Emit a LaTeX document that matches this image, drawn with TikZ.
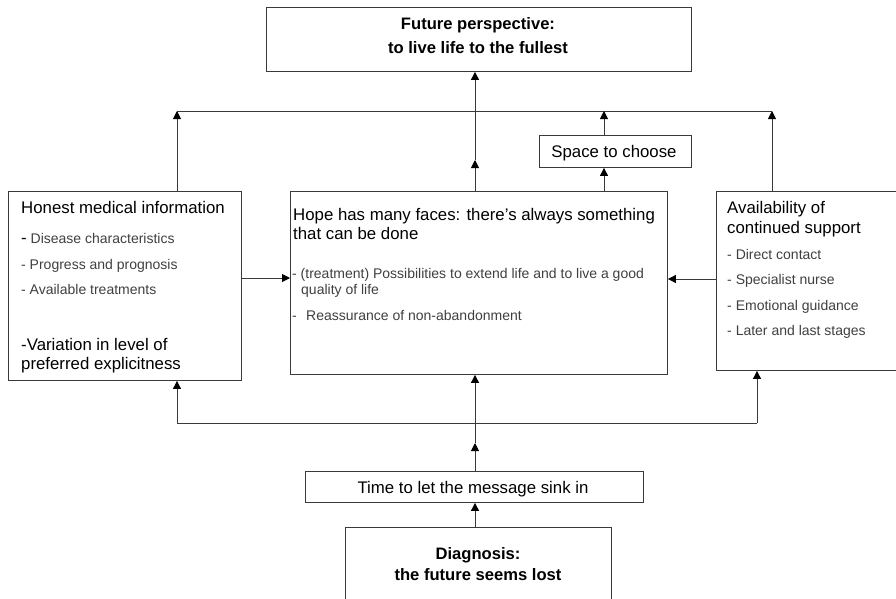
\documentclass[tikz,border=0pt]{standalone}
\usepackage{fontspec}
\setmainfont{Liberation Sans}
\usetikzlibrary{arrows.meta}
\definecolor{lncol}{HTML}{3A3A3A}
\definecolor{gtcol}{HTML}{404040}
\newcommand{\hdf}{\fontsize{16.8}{19.5}\selectfont}
\newcommand{\hbf}{\fontsize{16.6}{19.5}\selectfont\bfseries}
\newcommand{\blf}{\fontsize{14}{16}\selectfont}
\begin{document}
\begin{tikzpicture}[x=1pt,y=-1pt,
  box/.style={draw=lncol,line width=0.9pt,inner sep=0pt,anchor=north west},
  conn/.style={draw=lncol,line width=0.9pt},
  arr/.style={draw=lncol,line width=0.9pt,-{Triangle[length=8pt,width=8pt,color=black]}},
  hd/.style={inner sep=0pt,anchor=base west,font=\hdf},
  hdc/.style={inner sep=0pt,anchor=base,font=\hdf},
  hdb/.style={inner sep=0pt,anchor=base,font=\hbf},
  bl/.style={inner sep=0pt,anchor=base west,font=\blf,text=gtcol}]
\clip (0,0) rectangle (896,598);
\fill[white] (0,0) rectangle (896,598);
% boxes
\node[box,minimum width=425pt,minimum height=64pt] (top) at (266,7) {};
\node[box,minimum width=152pt,minimum height=32pt] (space) at (539,135) {};
\node[box,minimum width=233pt,minimum height=189pt] (left) at (8,191) {};
\node[box,minimum width=377pt,minimum height=183pt] (center) at (290,191) {};
\node[box,minimum width=190pt,minimum height=179pt] (right) at (716,191) {};
\node[box,minimum width=338pt,minimum height=31pt] (time) at (305,471) {};
\node[box,minimum width=266pt,minimum height=90pt] (diag) at (345,527) {};
% texts
\node[hdb] (t1) at (478,29) {Future perspective:};
\node[hdb] (t2) at (478,53) {to live life to the fullest};
\node[hdc] (s1) at (614,157) {Space to choose};
\node[hdc] (m1) at (473,493) {Time to let the message sink in};
\node[hdb] (d1) at (478,559) {Diagnosis:};
\node[hdb] (d2) at (478,580) {the future seems lost};
\node[hd] (l1) at (21,213) {Honest medical information};
\node[bl] (l2) at (21,243) {{\hdf\color{black}-} Disease characteristics};
\node[bl] (l3) at (21,269) {- Progress and prognosis};
\node[bl] (l4) at (21,294) {- Available treatments};
\node[hd] (l5) at (21,350) {-Variation in level of};
\node[hd] (l6) at (21,369) {preferred explicitness};
\node[hd] (c1) at (293,220) {Hope has many faces: there’s always something};
\node[hd] (c2) at (293,239) {that can be done};
\node[bl] (c3) at (292,278) {- (treatment) Possibilities to extend life and to live a good};
\node[bl] (c4) at (301,294) {quality of life};
\node[bl] (c5) at (292,320) {-};
\node[bl] (c6) at (306,320) {Reassurance of non-abandonment};
\node[hd] (r1) at (727,213) {Availability of};
\node[hd] (r2) at (727,233) {continued support};
\node[bl] (r3) at (727,259) {- Direct contact};
\node[bl] (r4) at (727,284) {- Specialist nurse};
\node[bl] (r5) at (727,310) {- Emotional guidance};
\node[bl] (r6) at (727,335) {- Later and last stages};
% upper connectors
\coordinate (tl) at (177,111);
\coordinate (tr) at (772,111);
\coordinate (cm) at (475,160);
\coordinate (sa) at (604,151);
\draw[conn] (tl) -- (tr);
\draw[arr] (left.north -| tl) -- (tl);
\draw[arr] (right.north -| tr) -- (tr);
\draw[arr] (center.north -| cm) -- (cm);
\draw[arr] (cm) -- (top.south -| cm);
\draw[arr] (center.north -| sa) -- (space.south -| sa);
\draw[arr] (space.north -| sa) -- (tl -| sa);
% lower connectors
\coordinate (bl) at (177,423);
\coordinate (br) at (757,423);
\coordinate (bm) at (475,443);
\draw[conn] (bl) -- (br);
\draw[arr] (bl) -- (left.south -| bl);
\draw[arr] (br) -- (right.south -| br);
\draw[arr] (time.north -| bm) -- (bm);
\draw[arr] (bm) -- (center.south -| bm);
\draw[arr] (diag.north -| bm) -- (time.south -| bm);
% side connectors
\coordinate (ly) at (0,278);
\coordinate (ry) at (0,279);
\draw[arr] (left.east |- ly) -- (center.west |- ly);
\draw[arr] (right.west |- ry) -- (center.east |- ry);
\end{tikzpicture}
\end{document}
